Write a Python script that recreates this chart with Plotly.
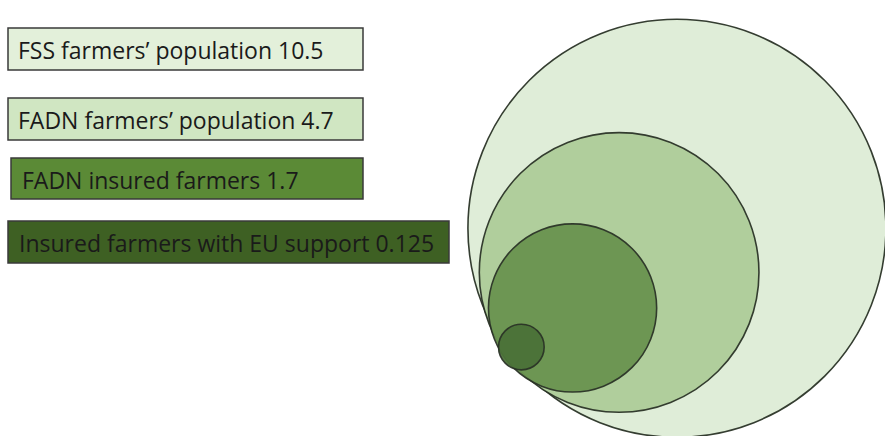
import math
import plotly.graph_objects as go

# ---- data ----
labels = [
    "FSS farmers\u2019 population",
    "FADN farmers\u2019 population",
    "FADN insured farmers",
    "Insured farmers with EU support",
]
values = [10.5, 4.7, 1.7, 0.125]
value_text = ["10.5", "4.7", "1.7", "0.125"]

# ---- styles / layout constants ----
W, H = 885, 436
box_fill = ["#e3f0da", "#d0e6c2", "#5b8a36", "#3e6023"]
circle_fill = ["#deedd6", "#aecd99", "#6a9450", "#4b7238"]
box_x0 = [8, 8, 11, 8]
box_x1 = [363, 363, 363, 449]
box_y0 = [28, 98, 158, 221]
box_y1 = [70, 140, 199, 263]
text_pad = [8, 8, 9, 9]

R_MAX = 209.0            # pixel radius of the largest circle
P = (502.3, 361.6)       # common near-tangent point
D = (0.8355, -0.6377)    # direction from tangent point toward centres

fig = go.Figure()
shapes = []
annotations = []

# boxes with labels
for i, lab in enumerate(labels):
    shapes.append(dict(type="rect", xref="x", yref="y",
                       x0=box_x0[i], x1=box_x1[i], y0=box_y0[i], y1=box_y1[i],
                       fillcolor=box_fill[i],
                       line=dict(color="#3a3a3a", width=1.5), layer="above"))
    annotations.append(dict(xref="x", yref="y",
                            x=box_x0[i] + text_pad[i],
                            y=(box_y0[i] + box_y1[i]) / 2 + 1,
                            text=f"{lab} {value_text[i]}",
                            showarrow=False, xanchor="left", yanchor="middle",
                            font=dict(family="Open Sans, Lato, sans-serif",
                                      size=23, color="#1a1a1a")))

# area-proportional nested circles
vmax = max(values)
for i, v in enumerate(values):
    r = R_MAX * math.sqrt(v / vmax)
    cx = P[0] + r * D[0]
    cy = P[1] + r * D[1]
    shapes.append(dict(type="circle", xref="x", yref="y",
                       x0=cx - r, x1=cx + r, y0=cy - r, y1=cy + r,
                       fillcolor=circle_fill[i], opacity=0.95,
                       line=dict(color="#2a3326", width=1.6), layer="above"))

# invisible trace to establish axes
fig.add_trace(go.Scatter(x=[0, W], y=[0, H], mode="markers",
                         marker=dict(opacity=0), hoverinfo="skip",
                         showlegend=False))

fig.update_layout(
    width=W, height=H,
    margin=dict(l=0, r=0, t=0, b=0),
    paper_bgcolor="white", plot_bgcolor="white",
    xaxis=dict(range=[0, W], visible=False, fixedrange=True),
    yaxis=dict(range=[H, 0], visible=False, fixedrange=True),
    shapes=shapes, annotations=annotations, showlegend=False,
)

fig.write_html("out.html", config={"displayModeBar": False},
               post_script="document.body.style.margin='0';document.body.style.overflow='hidden';")
